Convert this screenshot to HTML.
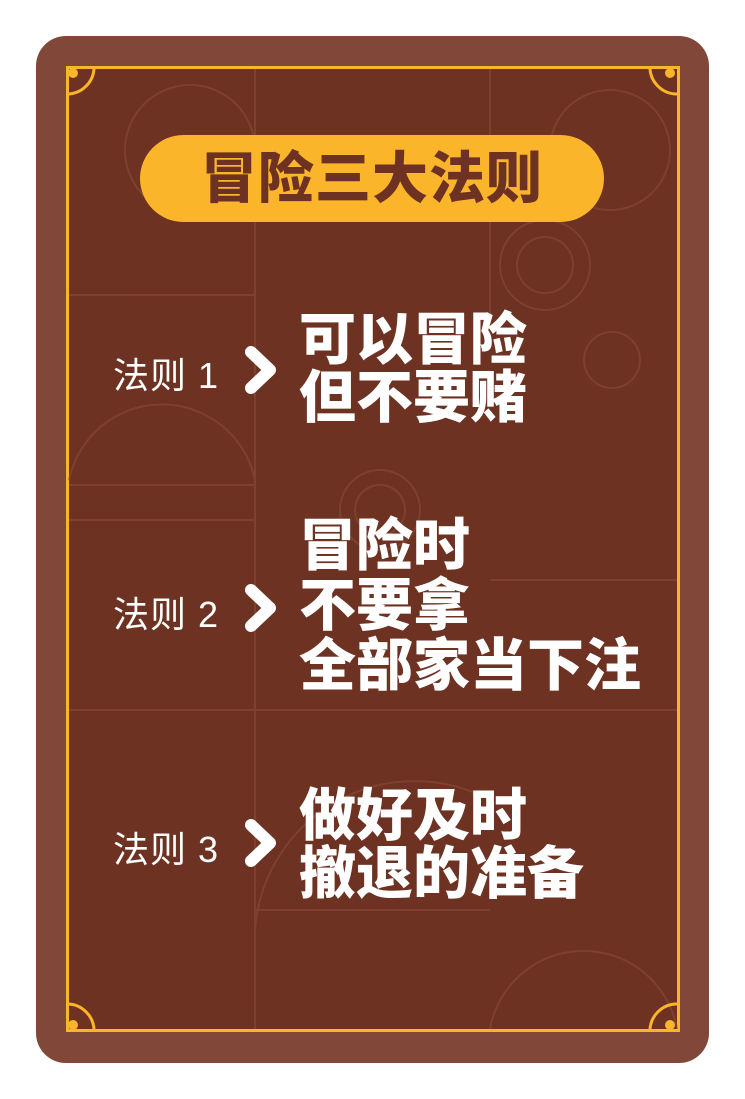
<!DOCTYPE html>
<html><head><meta charset="utf-8"><style>
body{margin:0;width:745px;height:1099px;background:#fff;position:relative;overflow:hidden;font-family:"Liberation Sans","Noto Sans CJK SC",sans-serif}
.abs{position:absolute}
.card{left:36px;top:36px;width:673px;height:1027px;background:#81483a;border-radius:30px}
.inner{left:66px;top:66px;width:608px;height:960px;background:#6e3222;border:3px solid #fbb52a}
.title{left:140px;top:135px;width:464px;height:87px;background:#fbb52a;border-radius:44px;color:#6e3222;font-size:56px;font-weight:900;text-align:center;line-height:87px;letter-spacing:1px}
.lab{color:#fff;font-size:36px;left:113px;letter-spacing:1px}
.main{color:#fff;font-size:57px;font-weight:900;left:299px;line-height:58px}
</style></head><body>
<div class="abs card"></div>
<div class="abs inner"></div>
<svg class="abs" style="left:0;top:0" width="745" height="1099">
<g fill="none" stroke="#8a4a38" stroke-width="2" opacity="0.6">
<circle cx="190" cy="150" r="65"/><circle cx="610" cy="150" r="60"/><circle cx="612" cy="360" r="28"/>
<line x1="255" y1="69" x2="255" y2="1029"/><line x1="490" y1="69" x2="490" y2="320"/>
<line x1="69" y1="295" x2="255" y2="295"/><line x1="69" y1="485" x2="255" y2="485"/><line x1="69" y1="520" x2="255" y2="520"/>
<line x1="69" y1="710" x2="677" y2="710"/><line x1="490" y1="580" x2="677" y2="580"/>
<path d="M69 480 A95 95 0 0 1 255 480"/><path d="M490 1029 A95 95 0 0 1 677 1029"/>
<circle cx="380" cy="510" r="40"/><circle cx="380" cy="510" r="25"/><circle cx="545" cy="265" r="45"/><circle cx="545" cy="265" r="28"/>
<path d="M255 930 A160 160 0 0 1 490 800"/><line x1="255" y1="910" x2="490" y2="910"/>
</g>
<g fill="#fbb52a">
<circle cx="73" cy="73" r="5"/><circle cx="670" cy="73" r="5"/><circle cx="73" cy="1025" r="5"/><circle cx="670" cy="1025" r="5"/>
</g>
<g fill="none" stroke="#fbb52a" stroke-width="3">
<path d="M66 94 A27 27 0 0 0 94 66"/><path d="M650 66 A27 27 0 0 0 677 94"/>
<path d="M66 1004 A27 27 0 0 1 94 1032"/><path d="M650 1032 A27 27 0 0 1 677 1004"/>
</g>
<g fill="none" stroke="#fff" stroke-width="12" stroke-linecap="round" stroke-linejoin="round">
<polyline points="251,352 270,370 251,388"/>
<polyline points="251,590 270,608 251,626"/>
<polyline points="251,825 270,843 251,861"/>
</g>
</svg>
<div class="abs title">冒险三大法则</div>
<div class="abs lab" style="top:347px">法则 1</div>
<div class="abs main" style="top:311px">可以冒险<br>但不要赌</div>
<div class="abs lab" style="top:586px">法则 2</div>
<div class="abs main" style="top:516px;line-height:60px">冒险时<br>不要拿<br>全部家当下注</div>
<div class="abs lab" style="top:821px">法则 3</div>
<div class="abs main" style="top:787px">做好及时<br>撤退的准备</div>
</body></html>
